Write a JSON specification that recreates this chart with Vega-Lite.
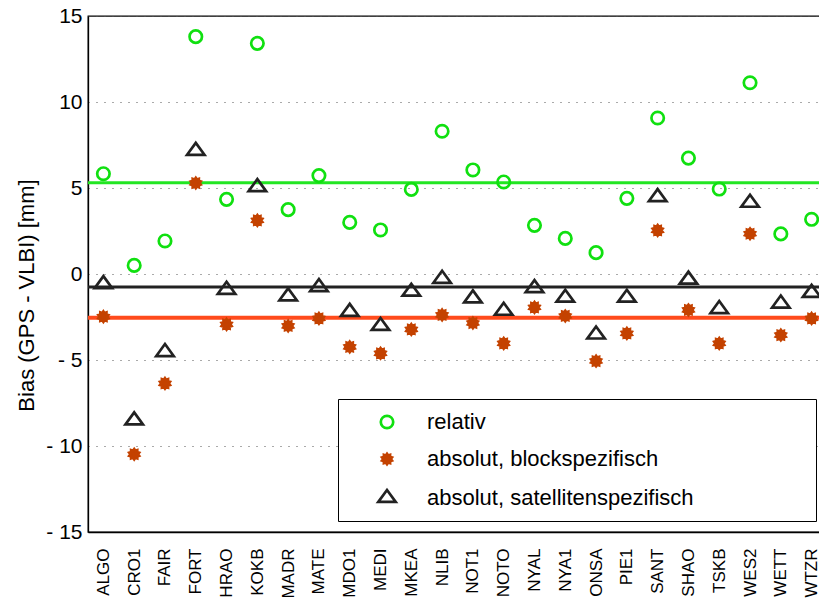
{
  "$schema": "https://vega.github.io/schema/vega-lite/v6.json",
  "autosize": {"type": "none"},
  "padding": {"left": 88, "top": 16, "right": 0, "bottom": 69},
  "width": 739,
  "height": 516,
  "background": "white",
  "datasets": {
    "points": [
      {"station": "ALGO", "series": "relativ", "bias": 5.83},
      {"station": "ALGO", "series": "absolut, blockspezifisch", "bias": -2.48},
      {"station": "ALGO", "series": "absolut, satellitenspezifisch", "bias": -0.59},
      {"station": "CRO1", "series": "relativ", "bias": 0.50},
      {"station": "CRO1", "series": "absolut, blockspezifisch", "bias": -10.48},
      {"station": "CRO1", "series": "absolut, satellitenspezifisch", "bias": -8.51},
      {"station": "FAIR", "series": "relativ", "bias": 1.92},
      {"station": "FAIR", "series": "absolut, blockspezifisch", "bias": -6.36},
      {"station": "FAIR", "series": "absolut, satellitenspezifisch", "bias": -4.54},
      {"station": "FORT", "series": "relativ", "bias": 13.80},
      {"station": "FORT", "series": "absolut, blockspezifisch", "bias": 5.29},
      {"station": "FORT", "series": "absolut, satellitenspezifisch", "bias": 7.16},
      {"station": "HRAO", "series": "relativ", "bias": 4.34},
      {"station": "HRAO", "series": "absolut, blockspezifisch", "bias": -2.93},
      {"station": "HRAO", "series": "absolut, satellitenspezifisch", "bias": -0.92},
      {"station": "KOKB", "series": "relativ", "bias": 13.41},
      {"station": "KOKB", "series": "absolut, blockspezifisch", "bias": 3.12},
      {"station": "KOKB", "series": "absolut, satellitenspezifisch", "bias": 5.05},
      {"station": "MADR", "series": "relativ", "bias": 3.74},
      {"station": "MADR", "series": "absolut, blockspezifisch", "bias": -3.02},
      {"station": "MADR", "series": "absolut, satellitenspezifisch", "bias": -1.30},
      {"station": "MATE", "series": "relativ", "bias": 5.72},
      {"station": "MATE", "series": "absolut, blockspezifisch", "bias": -2.58},
      {"station": "MATE", "series": "absolut, satellitenspezifisch", "bias": -0.76},
      {"station": "MDO1", "series": "relativ", "bias": 3.00},
      {"station": "MDO1", "series": "absolut, blockspezifisch", "bias": -4.24},
      {"station": "MDO1", "series": "absolut, satellitenspezifisch", "bias": -2.20},
      {"station": "MEDI", "series": "relativ", "bias": 2.56},
      {"station": "MEDI", "series": "absolut, blockspezifisch", "bias": -4.61},
      {"station": "MEDI", "series": "absolut, satellitenspezifisch", "bias": -3.02},
      {"station": "MKEA", "series": "relativ", "bias": 4.92},
      {"station": "MKEA", "series": "absolut, blockspezifisch", "bias": -3.22},
      {"station": "MKEA", "series": "absolut, satellitenspezifisch", "bias": -1.03},
      {"station": "NLIB", "series": "relativ", "bias": 8.30},
      {"station": "NLIB", "series": "absolut, blockspezifisch", "bias": -2.38},
      {"station": "NLIB", "series": "absolut, satellitenspezifisch", "bias": -0.28},
      {"station": "NOT1", "series": "relativ", "bias": 6.05},
      {"station": "NOT1", "series": "absolut, blockspezifisch", "bias": -2.85},
      {"station": "NOT1", "series": "absolut, satellitenspezifisch", "bias": -1.42},
      {"station": "NOTO", "series": "relativ", "bias": 5.35},
      {"station": "NOTO", "series": "absolut, blockspezifisch", "bias": -4.03},
      {"station": "NOTO", "series": "absolut, satellitenspezifisch", "bias": -2.14},
      {"station": "NYAL", "series": "relativ", "bias": 2.83},
      {"station": "NYAL", "series": "absolut, blockspezifisch", "bias": -1.94},
      {"station": "NYAL", "series": "absolut, satellitenspezifisch", "bias": -0.82},
      {"station": "NYA1", "series": "relativ", "bias": 2.07},
      {"station": "NYA1", "series": "absolut, blockspezifisch", "bias": -2.44},
      {"station": "NYA1", "series": "absolut, satellitenspezifisch", "bias": -1.38},
      {"station": "ONSA", "series": "relativ", "bias": 1.24},
      {"station": "ONSA", "series": "absolut, blockspezifisch", "bias": -5.06},
      {"station": "ONSA", "series": "absolut, satellitenspezifisch", "bias": -3.52},
      {"station": "PIE1", "series": "relativ", "bias": 4.40},
      {"station": "PIE1", "series": "absolut, blockspezifisch", "bias": -3.45},
      {"station": "PIE1", "series": "absolut, satellitenspezifisch", "bias": -1.38},
      {"station": "SANT", "series": "relativ", "bias": 9.07},
      {"station": "SANT", "series": "absolut, blockspezifisch", "bias": 2.54},
      {"station": "SANT", "series": "absolut, satellitenspezifisch", "bias": 4.47},
      {"station": "SHAO", "series": "relativ", "bias": 6.74},
      {"station": "SHAO", "series": "absolut, blockspezifisch", "bias": -2.09},
      {"station": "SHAO", "series": "absolut, satellitenspezifisch", "bias": -0.33},
      {"station": "TSKB", "series": "relativ", "bias": 4.94},
      {"station": "TSKB", "series": "absolut, blockspezifisch", "bias": -4.03},
      {"station": "TSKB", "series": "absolut, satellitenspezifisch", "bias": -2.04},
      {"station": "WES2", "series": "relativ", "bias": 11.12},
      {"station": "WES2", "series": "absolut, blockspezifisch", "bias": 2.34},
      {"station": "WES2", "series": "absolut, satellitenspezifisch", "bias": 4.14},
      {"station": "WETT", "series": "relativ", "bias": 2.33},
      {"station": "WETT", "series": "absolut, blockspezifisch", "bias": -3.55},
      {"station": "WETT", "series": "absolut, satellitenspezifisch", "bias": -1.72},
      {"station": "WTZR", "series": "relativ", "bias": 3.18},
      {"station": "WTZR", "series": "absolut, blockspezifisch", "bias": -2.58},
      {"station": "WTZR", "series": "absolut, satellitenspezifisch", "bias": -1.10}
    ]
  },
  "layer": [
    {
      "data": {"name": "points"},
      "mark": {"type": "point", "opacity": 0},
      "encoding": {
        "x": {
          "field": "station", "type": "nominal", "sort": null,
          "scale": {"type": "point", "padding": 0.5},
          "axis": {"title": null, "labelAngle": -90, "labelFontSize": 17, "labelPadding": 16, "ticks": false, "labelOverlap": false, "labelBound": false, "grid": false, "domainWidth": 1.3}
        },
        "y": {
          "field": "bias", "type": "quantitative",
          "scale": {"domain": [-15, 15], "nice": false, "zero": false},
          "axis": {
            "title": "Bias (GPS - VLBI) [mm]", "titleFontSize": 22, "titleFontWeight": "normal", "titlePadding": 7, "titleY": 279,
            "values": [-15, -10, -5, 0, 5, 10, 15],
            "labelExpr": "datum.value < 0 ? '- ' + abs(datum.value) : '' + datum.value",
            "labelFontSize": 21, "labelPadding": 6, "ticks": false,
            "grid": true, "gridColor": "#555", "gridDash": [1, 7], "gridWidth": 1, "domainWidth": 1.3
          }
        }
      }
    },
    {
      "data": {"values": [{"mean": 5.31}]},
      "mark": {"type": "rule", "color": "#22e622", "strokeWidth": 3},
      "encoding": {"y": {"field": "mean", "type": "quantitative"}}
    },
    {
      "data": {"values": [{"mean": -0.76}]},
      "mark": {"type": "rule", "color": "#222222", "strokeWidth": 3},
      "encoding": {"y": {"field": "mean", "type": "quantitative"}}
    },
    {
      "data": {"values": [{"mean": -2.54}]},
      "mark": {"type": "rule", "color": "#ff4b1c", "strokeWidth": 4},
      "encoding": {"y": {"field": "mean", "type": "quantitative"}}
    },
    {
      "data": {"name": "points"},
      "mark": {"type": "point", "size": 324, "strokeWidth": 2.7, "opacity": 1},
      "encoding": {
        "x": {"field": "station", "type": "nominal", "sort": null},
        "y": {"field": "bias", "type": "quantitative"},
        "shape": {
          "field": "series", "type": "nominal",
          "scale": {
            "domain": ["relativ", "absolut, blockspezifisch", "absolut, satellitenspezifisch"],
            "range": [
              "M0.69,0A0.69,0.69 0 1,1 -0.69,0A0.69,0.69 0 1,1 0.69,0Z",
              "M0,-0.58L0.129,-0.397L0.341,-0.469L0.338,-0.245L0.552,-0.179L0.418,0L0.552,0.179L0.338,0.245L0.341,0.469L0.129,0.397L0,0.58L-0.129,0.397L-0.341,0.469L-0.338,0.245L-0.552,0.179L-0.418,0L-0.552,-0.179L-0.338,-0.245L-0.341,-0.469L-0.129,-0.397Z",
              "M0,-0.89L0.97,0.44L-0.97,0.44Z"
            ]
          },
          "legend": {"title": null, "labelExpr": "pad(datum.label, 47, '\u00a0') + '\u200b'"}
        },
        "stroke": {
          "field": "series", "type": "nominal",
          "scale": {
            "domain": ["relativ", "absolut, blockspezifisch", "absolut, satellitenspezifisch"],
            "range": ["#10e010", "#c44200", "#222222"]
          },
          "legend": {"title": null, "labelExpr": "pad(datum.label, 47, '\u00a0') + '\u200b'"}
        },
        "fill": {
          "field": "series", "type": "nominal",
          "scale": {
            "domain": ["relativ", "absolut, blockspezifisch", "absolut, satellitenspezifisch"],
            "range": ["transparent", "#c44200", "transparent"]
          },
          "legend": {"title": null, "labelExpr": "pad(datum.label, 47, '\u00a0') + '\u200b'"}
        }
      }
    }
  ],
  "config": {
    "font": "Liberation Sans",
    "view": {"stroke": "black", "strokeWidth": 1.3},
    "axis": {"labelColor": "black", "titleColor": "black", "domainColor": "black"},
    "legend": {
      "orient": "none", "legendX": 250, "legendY": 383,
      "padding": 12, "symbolOffset": 26, "labelOffset": 29, "rowPadding": 14,
      "symbolSize": 324, "symbolStrokeWidth": 2.7,
      "labelFontSize": 22, "labelColor": "black", "labelLimit": 0,
      "strokeColor": "black", "fillColor": "white"
    }
  }
}
